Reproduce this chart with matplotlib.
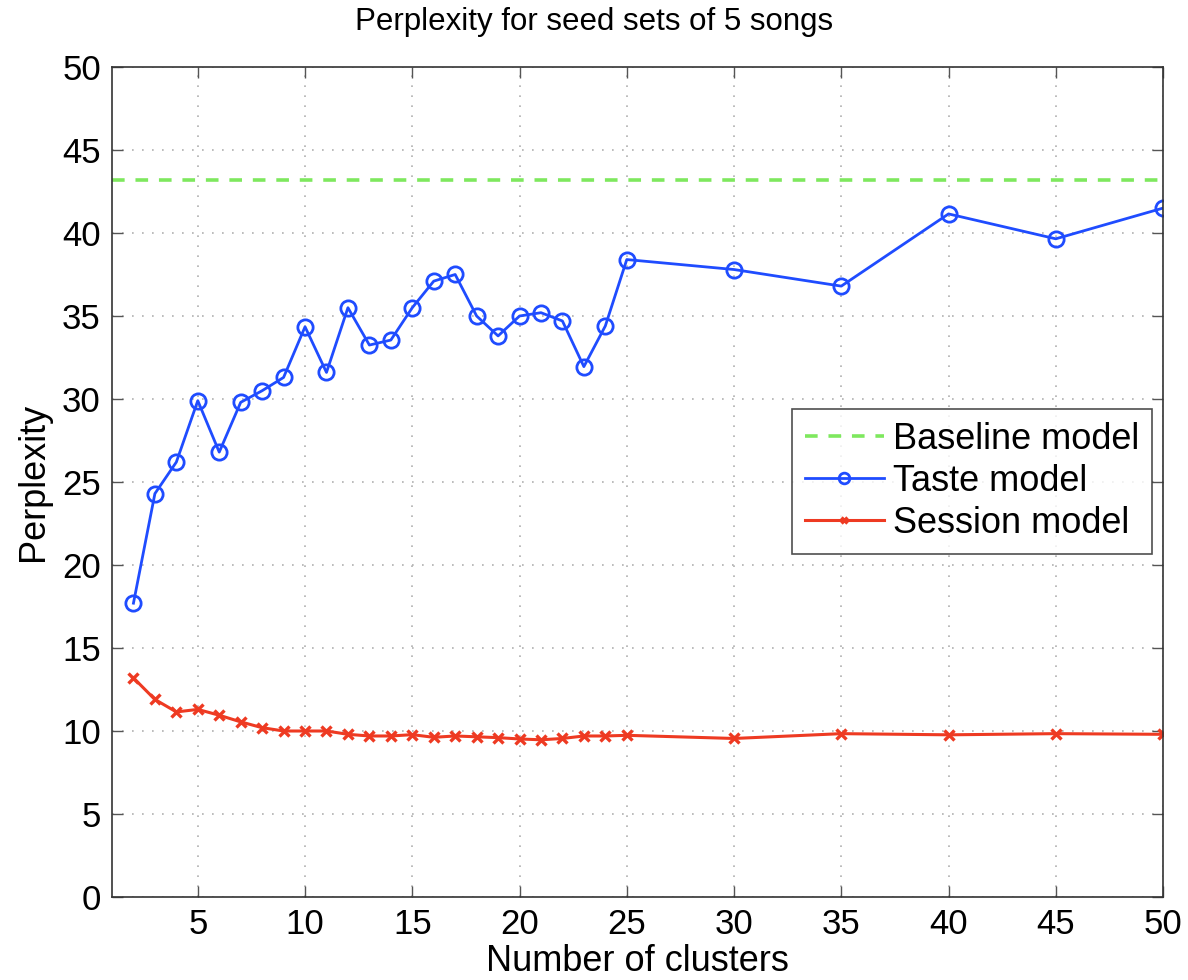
import matplotlib
matplotlib.use("Agg")
import matplotlib.pyplot as plt
from matplotlib.ticker import MultipleLocator

plt.rcParams['font.family'] = ['Liberation Sans', 'DejaVu Sans']

clusters = [2, 3, 4, 5, 6, 7, 8, 9, 10, 11, 12, 13, 14, 15, 16, 17, 18, 19, 20,
            21, 22, 23, 24, 25, 30, 35, 40, 45, 50]
taste = [17.7, 24.3, 26.2, 29.9, 26.8, 29.8, 30.5, 31.3, 34.35, 31.6, 35.5, 33.25,
         33.55, 35.5, 37.1, 37.5, 35.0, 33.8, 35.0, 35.2, 34.7, 31.95, 34.4, 38.4,
         37.8, 36.8, 41.15, 39.65, 41.5]
session = [13.2, 11.9, 11.15, 11.3, 10.95, 10.55, 10.2, 10.0, 10.0, 10.0, 9.8, 9.7,
           9.7, 9.78, 9.62, 9.7, 9.65, 9.6, 9.52, 9.47, 9.55, 9.7, 9.7, 9.74,
           9.55, 9.84, 9.77, 9.84, 9.8]
baseline = 43.2

title = "Perplexity for seed sets of 5 songs"
xlabel = "Number of clusters"
ylabel = "Perplexity"
labels = ["Baseline model", "Taste model", "Session model"]

fig = plt.figure(figsize=(11.88, 9.8), dpi=100)
ax = fig.add_axes([112/1188, 1-897/980, (1163-112)/1188, (897-67)/980])

ax.plot([1, 50], [baseline, baseline], color='#7ee85e', lw=2.6, ls=(0, (3.5, 3)),
        label=labels[0])
ax.plot(clusters, taste, color='#1f4cff', lw=2.0, marker='o', ms=11,
        mfc='none', mew=2.0, label=labels[1])
ax.plot(clusters, session, color='#ee3a22', lw=2.2, marker='x', ms=7,
        mew=2.4, label=labels[2])

ax.set_xlim(1, 50)
ax.set_ylim(0, 50)
ax.xaxis.set_major_locator(MultipleLocator(5))
ax.yaxis.set_major_locator(MultipleLocator(5))
ax.grid(True, ls=(0, (1, 5)), color='#b0b0b0', lw=1.2)
ax.tick_params(direction='in', length=8, width=1, labelsize=25, top=True, right=True,
               color='#555555', pad=8)
for s in ax.spines.values():
    s.set_color('#333333')
    s.set_linewidth(1.2)

fig.text(594/1188, 1-30/980, title, ha='center', va='baseline', fontsize=22.5)
ax.set_xlabel(xlabel, fontsize=26, labelpad=2)
ax.set_ylabel(ylabel, fontsize=26, labelpad=8)

leg = ax.legend(loc='upper right', bbox_to_anchor=((1152-112)/1051, (897-409)/830),
                fontsize=26, frameon=True, fancybox=False, borderaxespad=0,
                handlelength=2.2, handletextpad=0.25, labelspacing=0.2,
                borderpad=0.35, markerscale=0.7)
leg.get_frame().set_edgecolor('#222222')
leg.get_frame().set_linewidth(1.2)

fig.savefig("out.png", dpi=100)
